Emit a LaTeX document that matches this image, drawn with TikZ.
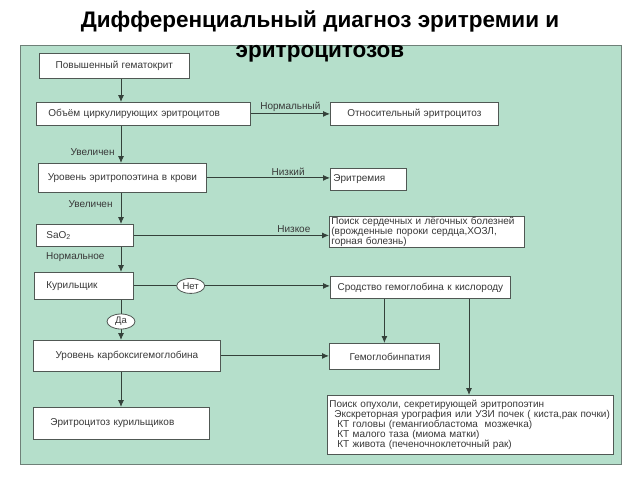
\documentclass[tikz,border=0pt]{standalone}
\usepackage{fontspec}
\setmainfont{Liberation Sans}
\usepackage{tikz}
\usetikzlibrary{shapes, calc, arrows.meta}

\definecolor{panelfill}{HTML}{B5DFCB}
\definecolor{panelline}{HTML}{6F8078}
\definecolor{linecol}{HTML}{34413A}
\definecolor{boxline}{HTML}{505854}
\definecolor{textcol}{HTML}{383838}

\begin{document}
\begin{tikzpicture}[x=1pt, y=-1pt]
		\tikzstyle{box}=[rectangle, draw=boxline, line width=0.8pt, fill=white, anchor=north west, inner ysep=0pt, text=textcol, font=\fontsize{10}{10}\selectfont]
		\tikzstyle{lbl}=[text=textcol, inner sep=2pt, font=\fontsize{10}{10}\selectfont]
		\tikzstyle{choice}=[ellipse, draw=boxline, line width=0.8pt, fill=white, text=textcol, inner sep=0pt, minimum width=28pt, minimum height=15pt, font=\fontsize{9.5}{10}\selectfont]
		\tikzstyle{link}=[->, line width=0.9pt, >={Latex[length=7pt, width=6pt]}, draw=linecol]

		\useasboundingbox (0,0) rectangle (640,480);

		% green panel behind the chart
		\fill[panelfill] (20,45) rectangle (621,464);
		\draw[panelline, thin] (20,45) rectangle (621,464);

		\node[anchor=north, align=center, inner sep=0pt, text=black,
			font=\fontsize{22.5}{30}\selectfont\bfseries] (title) at (320,11) {
			Дифференциальный диагноз эритремии и\\эритроцитозов
		};

		\coordinate (spine) at (121,0);
		\coordinate (drop) at (469,0);

		% left column
		\node[box, minimum height=25pt, text width=150pt, inner xsep=0pt, align=center]
		(hematocrit) at (39,53) {Повышенный гематокрит};

		\node[box, minimum height=23pt, text width=190pt, inner xsep=12pt, align=left]
		(volume) at (36,102) {Объём циркулирующих эритроцитов};

		\node[box, minimum height=29pt, text width=168pt, inner xsep=0pt, align=center]
		(epo) at (38,163) {Уровень эритропоэтина в крови};

		\node[box, minimum height=22pt, text width=77pt, inner xsep=10pt, align=left]
		(sao2) at (36,224) {SaO\textsubscript{2}};

		\node[box, minimum height=27pt, text width=75pt, inner xsep=12pt, align=left]
		(smoker) at (34,272) {Курильщик};

		\node[box, minimum height=31pt, text width=187pt, inner xsep=0pt, align=center]
		(carboxy) at (33,340) {Уровень карбоксигемоглобина};

		\node[box, minimum height=32pt, text width=142pt, inner xsep=17pt, align=left]
		(smokerEry) at (33,407) {Эритроцитоз курильщиков};

		% right column
		\node[box, minimum height=23pt, text width=168pt, inner xsep=0pt, align=center]
		(relErythro) at (330,102) {Относительный эритроцитоз};

		\node[box, minimum height=22pt, text width=70pt, inner xsep=3pt, align=left]
		(erythremia) at (330,168) {Эритремия};

		\node[box, minimum height=31pt, text width=191pt, inner xsep=2pt, align=left]
		(cardioLung) at (329,216) {
			Поиск сердечных и лёгочных болезней\\
			(врожденные пороки сердца,ХОЗЛ,\\
			горная болезнь)
		};

		\node[box, minimum height=22pt, text width=180pt, inner xsep=0pt, align=center]
		(affinity) at (330,276) {Сродство гемоглобина к кислороду};

		\node[box, minimum height=26pt, text width=92pt, inner xsep=9pt, align=right]
		(hbpathy) at (329,343) {Гемоглобинпатия};

		\node[box, minimum height=59pt, text width=282pt, inner xsep=2pt, align=left]
		(tumor) at (327,395) {
			Поиск опухоли, секретирующей эритропоэтин\\
			\hspace*{5pt}Экскреторная урография или УЗИ почек ( киста,рак почки)\\
			\hspace*{8pt}КТ головы (гемангиобластома~~мозжечка)\\
			\hspace*{8pt}КТ малого таза (миома матки)\\
			\hspace*{8pt}КТ живота (печеночноклеточный рак)
		};

		% connectors
		\draw[link] (hematocrit.south -| spine) -- (volume.north -| spine);
		\draw[link] (volume) -- node[lbl, above] {Нормальный} (relErythro);
		\draw[link] (volume.south -| spine) -- node[lbl, left, pos=0.7, xshift=-4pt] {Увеличен} (epo.north -| spine);
		\draw[link] (epo.east) -- node[lbl, above, pos=0.66] {Низкий} (epo.east -| erythremia.west);
		\draw[link] (epo.south -| spine) -- node[lbl, left, pos=0.35, xshift=-6pt] {Увеличен} (sao2.north -| spine);
		\draw[link] (sao2.east) -- node[lbl, above, pos=0.82] {Низкое} (sao2.east -| cardioLung.west);
		\draw[link] (sao2.south -| spine) -- node[lbl, left, pos=0.42, xshift=-14pt] {Нормальное} (smoker.north -| spine);
		\draw[link] (smoker.east) -- node[choice, pos=0.29] {Нет} (smoker.east -| affinity.west);
		\draw[link] (smoker.south -| spine) -- node[choice, pos=0.54] {Да} (carboxy.north -| spine);
		\draw[link] (affinity.south -| hbpathy.north) -- (hbpathy.north);
		\draw[link] (affinity.south -| drop) -- (tumor.north -| drop);
		\draw[link] (carboxy.east) -- (carboxy.east -| hbpathy.west);
		\draw[link] (carboxy.south -| spine) -- (smokerEry.north -| spine);

	\end{tikzpicture}
\end{document}
